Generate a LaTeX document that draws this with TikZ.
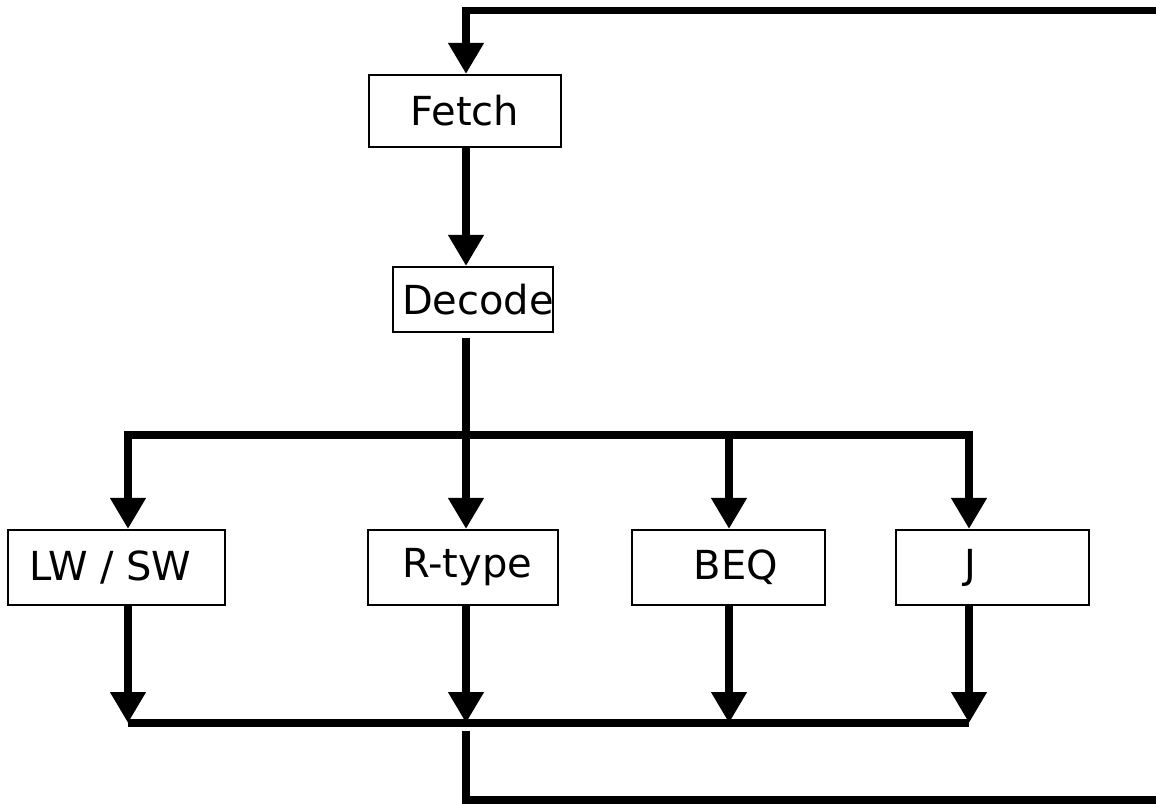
\documentclass[tikz,border=0pt]{standalone}
\usepackage{fontspec}
\setmainfont{DejaVu Sans}
\usetikzlibrary{arrows.meta}
\begin{document}
\begin{tikzpicture}[x=1pt,y=-1pt,
  wire/.style={line width=7.5pt},
  arr/.style={wire,-{Triangle[width=34pt,length=31pt]}},
  arrtwo/.style={wire,{Triangle[width=34pt,length=31pt]}-{Triangle[width=34pt,length=31pt]}},
  lbl/.style={font=\fontsize{40}{42}\selectfont},
  box/.style={draw,line width=2.2pt,inner sep=0pt,minimum height=75pt,lbl},
]
\useasboundingbox[fill=white] (0,0) rectangle (1156,803);
% boxes
\node[box,minimum width=192pt,minimum height=72pt] (fetch) at (465,111) {Fetch};
\node[box,minimum width=160pt,minimum height=65pt,label={[xshift=5pt,lbl]center:Decode}] (decode) at (473,299.5) {};
\node[box,minimum width=217pt,label={[xshift=-6pt,lbl]center:LW / SW}] (lw) at (116.5,567.5) {};
\node[box,minimum width=190pt,label={[xshift=4pt,lbl]center:R-type}] (rt) at (463,567.5) {};
\node[box,minimum width=193pt,label={[xshift=7.5pt,lbl]center:BEQ}] (beq) at (728.5,567.5) {};
\node[box,minimum width=193pt,label={[xshift=-22pt,lbl]center:J}] (jj) at (992.5,567.5) {};
% coordinates
\coordinate (t1) at (466,10.5);
\coordinate (t2) at (1156,10.5);
\coordinate (d0) at (466,338);
\coordinate (d1) at (466,435);
\coordinate (bl) at (128,435);
\coordinate (bm) at (729,435);
\coordinate (br) at (969,435);
\coordinate (ql) at (128,723);
\coordinate (qr) at (969,723);
\coordinate (r0) at (466,731);
\coordinate (r1) at (466,800);
\coordinate (r2) at (1156,800);
% connectors
\draw[arr] (t2) -- (t1) -- (t1 |- fetch.north);
\draw[arr] (t1 |- fetch.south) -- (t1 |- decode.north);
\draw[wire] (d0) -- (d1);
\draw[arrtwo] (bl |- lw.north) -- (bl) -- (br) -- (br |- jj.north);
\draw[arr] (d1) -- (d1 |- rt.north);
\draw[arr] (bm) -- (bm |- beq.north);
% collecting
\draw[wire] (ql) -- (qr);
\draw[arr] (ql |- lw.south) -- (ql);
\draw[arr] (d1 |- rt.south) -- (d1 |- ql);
\draw[arr] (bm |- beq.south) -- (bm |- ql);
\draw[arr] (qr |- jj.south) -- (qr);
% return
\draw[wire] (r0) -- (r1) -- (r2);
\end{tikzpicture}
\end{document}
